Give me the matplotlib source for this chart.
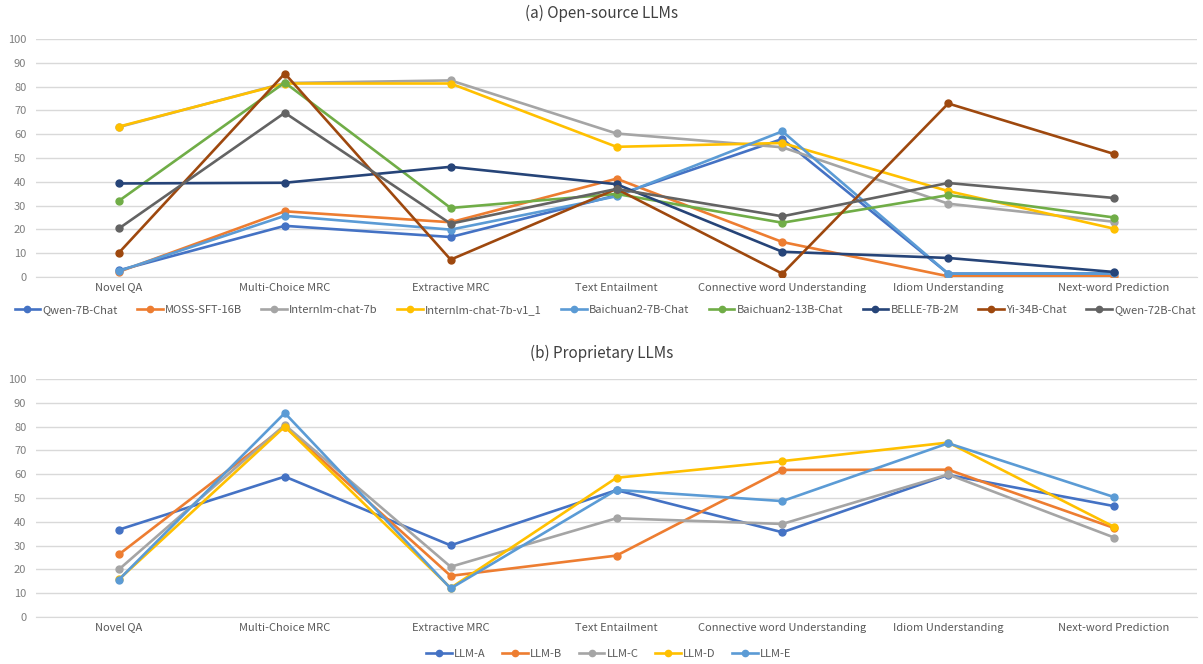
import matplotlib
matplotlib.use("Agg")
import matplotlib.pyplot as plt
from matplotlib.lines import Line2D

plt.rcParams['font.family'] = ['Noto Sans CJK SC', 'DejaVu Sans']

categories = ["Novel QA", "Multi-Choice MRC", "Extractive MRC", "Text Entailment",
              "Connective word Understanding", "Idiom Understanding", "Next-word Prediction"]

# (a) Open-source LLMs
open_names = ["Qwen-7B-Chat", "MOSS-SFT-16B", "Internlm-chat-7b", "Internlm-chat-7b-v1_1",
              "Baichuan2-7B-Chat", "Baichuan2-13B-Chat", "BELLE-7B-2M", "Yi-34B-Chat", "Qwen-72B-Chat"]
qwen7b      = [2.8, 21.5, 16.8, 34.3, 58.0, 1.4, 1.5]
moss        = [2.2, 27.6, 23.0, 41.3, 14.7, 0.3, 0.3]
internlm    = [63.0, 81.5, 82.6, 60.3, 54.5, 30.8, 23.2]
internlm_v11 = [63.2, 81.3, 81.3, 54.7, 56.3, 36.1, 20.3]
baichuan7b  = [2.5, 25.7, 19.9, 33.9, 61.2, 1.4, 1.5]
baichuan13b = [32.0, 81.7, 29.0, 34.9, 22.8, 34.4, 25.0]
belle       = [39.3, 39.6, 46.3, 39.0, 10.6, 8.0, 2.1]
yi34b       = [10.2, 85.5, 7.3, 37.0, 1.4, 72.9, 51.7]
qwen72b     = [20.4, 69.0, 22.4, 37.0, 25.5, 39.5, 33.2]
open_values = [qwen7b, moss, internlm, internlm_v11, baichuan7b, baichuan13b, belle, yi34b, qwen72b]
open_colors = ["#4472C4", "#ED7D31", "#A5A5A5", "#FFC000", "#5B9BD5", "#70AD47",
               "#264478", "#9E480E", "#636363"]

# (b) Proprietary LLMs
prop_names = ["LLM-A", "LLM-B", "LLM-C", "LLM-D", "LLM-E"]
llm_a = [36.7, 59.0, 30.1, 53.3, 35.6, 59.7, 46.6]
llm_b = [26.3, 80.0, 17.3, 25.8, 61.8, 61.9, 37.4]
llm_c = [20.0, 80.7, 21.1, 41.5, 39.1, 59.9, 33.4]
llm_d = [15.8, 80.0, 12.2, 58.5, 65.5, 73.3, 37.9]
llm_e = [15.7, 85.7, 12.0, 53.4, 48.7, 73.0, 50.4]
prop_values = [llm_a, llm_b, llm_c, llm_d, llm_e]
prop_colors = ["#4472C4", "#ED7D31", "#A5A5A5", "#FFC000", "#5B9BD5"]

W, H = 1203, 664
fig = plt.figure(figsize=(W / 100, H / 100), dpi=100)

def make_axes(top_px, bottom_px):
    left, right = 36, 1197
    return fig.add_axes([left / W, 1 - bottom_px / H, (right - left) / W, (bottom_px - top_px) / H])

ax1 = make_axes(39, 277)
ax2 = make_axes(379, 617)

def style(ax, names, values, colors, title, title_y, legend_y, legend_x, colsp):
    x = list(range(len(categories)))
    for name, vals, c in zip(names, values, colors):
        ax.plot(x, vals, color=c, lw=1.9, marker='o', markersize=5, label=name,
                solid_capstyle='round', zorder=3)
    ax.set_xlim(-0.5, len(categories) - 0.5)
    ax.set_ylim(0, 100)
    ax.set_yticks(range(0, 101, 10))
    ax.set_xticks(x)
    ax.set_xticklabels(categories)
    ax.grid(axis='y', color='#D9D9D9', lw=1, zorder=0)
    ax.set_axisbelow(True)
    for s in ['top', 'right', 'left']:
        ax.spines[s].set_visible(False)
    ax.spines['bottom'].set_color('#D9D9D9')
    ax.tick_params(axis='both', length=0, labelsize=8, colors='#595959', pad=4)
    ax.tick_params(axis='y', pad=7)
    for t in ax.get_yticklabels():
        t.set_color('#7F7F7F')
    fig.text(0.5, 1 - title_y / H, title, ha='center', va='center', fontsize=11, color='#404040')
    handles = [Line2D([0], [0], color=c, lw=1.9, marker='o', markersize=4.5) for c in colors]
    fig.legend(handles, names, loc='center', bbox_to_anchor=(legend_x, 1 - legend_y / H),
               ncol=len(names), frameon=False, fontsize=8, handlelength=2.3,
               handletextpad=0.2, columnspacing=colsp, labelcolor='#595959')

style(ax1, open_names, open_values, open_colors, "(a) Open-source LLMs", 13, 310, 0.503, 1.75)
style(ax2, prop_names, prop_values, prop_colors, "(b) Proprietary LLMs", 353, 654, 0.506, 1.5)

fig.savefig("out.png", dpi=100, facecolor='white')
